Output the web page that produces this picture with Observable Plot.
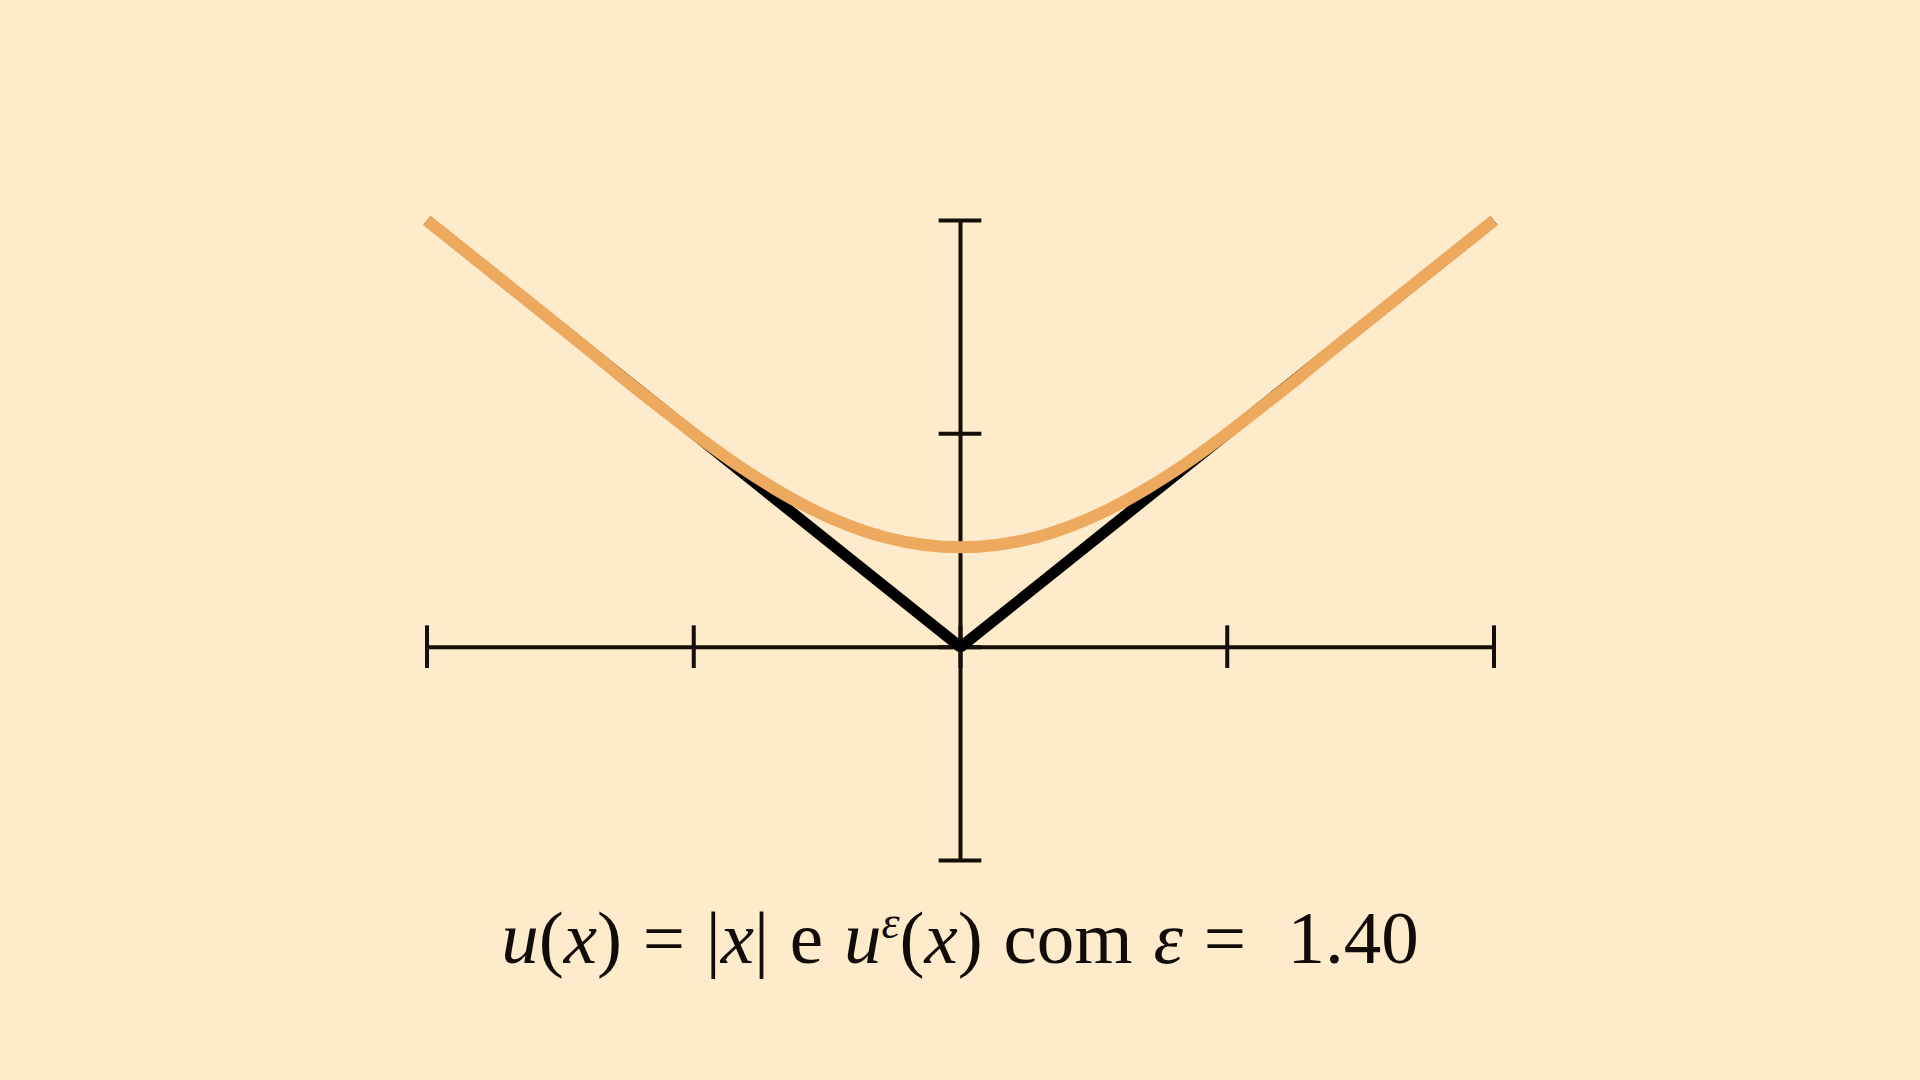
<!DOCTYPE html>
<html>
<head>
<meta charset="utf-8">
<script src="https://cdn.jsdelivr.net/npm/d3@7"></script>
<script src="https://cdn.jsdelivr.net/npm/@observablehq/plot@0.6"></script>
<style>
  html, body { margin: 0; padding: 0; background: #FEEBCB; width: 1920px; height: 1080px; overflow: hidden; }
  #chart svg { display: block; background: transparent; }
  #caption {
    position: absolute; left: 0; top: 895px; width: 1920px; text-align: center;
    font-family: "Liberation Serif", "DejaVu Serif", serif; font-size: 75px; color: #120c08;
    white-space: pre; word-spacing: 2px;
  }
  #caption i { font-style: italic; }
  #caption sup { font-size: 46px; vertical-align: 0.55em; line-height: 0; font-style: italic; }
</style>
</head>
<body>
<div id="chart"></div>
<div id="caption"><i>u</i>(<i>x</i>) = |<i>x</i>| e <i>u</i><sup>ε</sup>(<i>x</i>) com <i>ε</i> =  1.40</div>
<script>
// Axis ticks
const xTicks = [-2, -1, 0, 1, 2];
const yTicks = [-1, 0, 1, 2];

// u(x) = |x|
const absX = [-2, 0, 2];
const absY = [2, 0, 2];

// u^ε(x), ε = 1.40
const epsX = [-2.0, -1.4, -1.26, -1.12, -0.98, -0.84, -0.70, -0.56, -0.42, -0.28, -0.14, 0.0,
              0.14, 0.28, 0.42, 0.56, 0.70, 0.84, 0.98, 1.12, 1.26, 1.4, 2.0];
const epsY = [2.0, 1.40, 1.256, 1.118, 0.983, 0.857, 0.745, 0.648, 0.571, 0.514, 0.480, 0.468,
              0.480, 0.514, 0.571, 0.648, 0.745, 0.857, 0.983, 1.118, 1.256, 1.40, 2.0];

const absData = absX.map((x, i) => ({x, y: absY[i]}));
const epsData = epsX.map((x, i) => ({x, y: epsY[i]}));

const axisColor = "#160e09";
const tickHalfY = 0.1;   // in y units
const tickHalfX = 0.08;  // in x units

const chart = Plot.plot({
  width: 1920,
  height: 900,
  marginLeft: 426.5,
  marginRight: 426.5,
  marginTop: 220,
  marginBottom: 40,
  x: {domain: [-2, 2], axis: null},
  y: {domain: [-1, 2], axis: null},
  style: {background: "transparent", overflow: "visible"},
  marks: [
    // x axis
    Plot.ruleY([0], {x1: xTicks[0], x2: xTicks[xTicks.length - 1], stroke: axisColor, strokeWidth: 4}),
    Plot.ruleX(xTicks, {x: d => d, y1: -tickHalfY, y2: tickHalfY, stroke: axisColor, strokeWidth: 4}),
    // y axis
    Plot.ruleX([0], {y1: yTicks[0], y2: yTicks[yTicks.length - 1], stroke: axisColor, strokeWidth: 4}),
    Plot.ruleY(yTicks, {y: d => d, x1: -tickHalfX, x2: tickHalfX, stroke: axisColor, strokeWidth: 4}),
    // |x|
    Plot.line(absData, {x: "x", y: "y", stroke: "#000000", strokeWidth: 11, strokeLinejoin: "miter", strokeLinecap: "butt"}),
    // u^eps
    Plot.line(epsData, {x: "x", y: "y", stroke: "#EDA95E", strokeWidth: 12, curve: "catmull-rom", strokeLinecap: "butt"})
  ]
});
document.getElementById("chart").appendChild(chart);
</script>
</body>
</html>
